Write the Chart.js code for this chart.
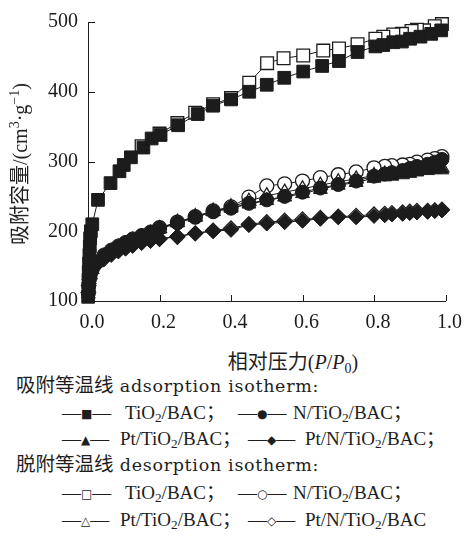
<!DOCTYPE html>
<html>
<head>
<meta charset="utf-8">
<script src="https://cdn.jsdelivr.net/npm/chart.js@4.4.1/dist/chart.umd.min.js"></script>
<style>
  body { margin: 0; background: #fff; }
  #wrap { position: relative; width: 468px; height: 548px; overflow: hidden;
          font-family: "Liberation Serif", "Noto Sans CJK SC", serif; color: #1e1e1e; }
  #c { position: absolute; left: 0; top: 0; }
  .t { position: absolute; white-space: nowrap; font-size: 19px; line-height: 1; transform: translateY(-50%); }
  .hd { font-size: 19.5px; }
  .ytitle { position: absolute; left: 20px; top: 164px; white-space: nowrap; font-size: 20px; line-height: 1;
            transform: translate(-50%, -50%) rotate(-90deg); }
  .xtitle { position: absolute; left: 293px; top: 362px; white-space: nowrap; font-size: 20px; line-height: 1;
            transform: translate(-50%, -50%); }
  .sp { font-family: "DejaVu Serif", serif; font-size: 17.5px; letter-spacing: 0.7px; }
  .sym { font-family: "DejaVu Sans"; font-size: 12px; position: relative; top: -1px; }
  sub { font-size: 70%; vertical-align: -0.3em; line-height: 0; }
  sup { font-size: 70%; vertical-align: 0.55em; line-height: 0; }
</style>
</head>
<body>
<div id="wrap">
  <canvas id="c" width="468" height="340"></canvas>

  <div class="ytitle">吸附容量/(cm<sup>3</sup>·g<sup>−1</sup>)</div>
  <div class="xtitle">相对压力(<i>P</i>/<i>P</i><sub>0</sub>)</div>

  <div class="t hd" style="left:16px;top:386px">吸附等温线<span class="sp"> adsorption isotherm:</span></div>
  <div class="t" style="left:62px;top:412px">—<span class="sym">■</span>—</div>
  <div class="t" style="left:125px;top:412px">TiO<sub>2</sub>/BAC；</div>
  <div class="t" style="left:238px;top:412px">—<span class="sym">●</span>—</div>
  <div class="t" style="left:293px;top:412px">N/TiO<sub>2</sub>/BAC；</div>
  <div class="t" style="left:62px;top:438px">—<span class="sym">▲</span>—</div>
  <div class="t" style="left:120px;top:438px">Pt/TiO<sub>2</sub>/BAC；</div>
  <div class="t" style="left:248px;top:438px">—<span class="sym">◆</span>—</div>
  <div class="t" style="left:305px;top:438px">Pt/N/TiO<sub>2</sub>/BAC；</div>

  <div class="t hd" style="left:16px;top:465px">脱附等温线<span class="sp"> desorption isotherm:</span></div>
  <div class="t" style="left:62px;top:492px">—<span class="sym">□</span>—</div>
  <div class="t" style="left:125px;top:492px">TiO<sub>2</sub>/BAC；</div>
  <div class="t" style="left:238px;top:492px">—<span class="sym">○</span>—</div>
  <div class="t" style="left:293px;top:492px">N/TiO<sub>2</sub>/BAC；</div>
  <div class="t" style="left:62px;top:519px">—<span class="sym">△</span>—</div>
  <div class="t" style="left:120px;top:519px">Pt/TiO<sub>2</sub>/BAC；</div>
  <div class="t" style="left:248px;top:519px">—<span class="sym">◇</span>—</div>
  <div class="t" style="left:305px;top:519px">Pt/N/TiO<sub>2</sub>/BAC</div>
</div>

<script>
// relative pressure P/P0 and adsorbed volume (cm3/g)

// TiO2/BAC
const tiAdsP = [0.0005, 0.001, 0.0015, 0.002, 0.003, 0.004, 0.005, 0.006, 0.008, 0.012, 0.028, 0.063, 0.088, 0.10, 0.12, 0.155, 0.178, 0.203, 0.252, 0.307, 0.35, 0.40, 0.451, 0.50, 0.549, 0.602, 0.655, 0.702, 0.754, 0.804, 0.826, 0.854, 0.878, 0.901, 0.93, 0.96, 0.988];
const tiAdsV = [106, 118, 130, 142, 154, 166, 178, 190, 200, 210, 245, 269, 286, 295, 306, 320, 333, 338, 352, 368, 380, 389, 400, 410, 420, 429, 437, 444, 457, 465, 467, 471, 472, 476, 479, 483, 488];
const tiDesP = [0.99, 0.97, 0.94, 0.92, 0.905, 0.878, 0.854, 0.826, 0.804, 0.754, 0.702, 0.658, 0.602, 0.547, 0.501, 0.451, 0.40, 0.35, 0.30, 0.25, 0.20, 0.15];
const tiDesV = [497, 494, 488, 489, 487, 483, 482, 479, 476, 468, 462, 459, 452, 448, 441, 413, 391, 382, 370, 355, 340, 322];

// shared adsorption / desorption pressure points for the other three samples
const adsP = [0.001, 0.002, 0.004, 0.007, 0.012, 0.025, 0.045, 0.065, 0.085, 0.105, 0.125, 0.15, 0.175, 0.20, 0.25, 0.30, 0.35, 0.40, 0.45, 0.50, 0.55, 0.60, 0.65, 0.70, 0.75, 0.80, 0.83, 0.85, 0.88, 0.90, 0.92, 0.95, 0.97, 0.99];
const desP = [0.99, 0.97, 0.95, 0.92, 0.90, 0.88, 0.85, 0.83, 0.80, 0.75, 0.70, 0.65, 0.60, 0.55, 0.50, 0.45, 0.40, 0.35, 0.30, 0.25, 0.20];

// N/TiO2/BAC
const nAdsV = [111, 121, 131, 139, 146, 156, 166, 173, 179, 184, 189, 194, 199, 204, 212, 220, 228, 233, 240, 245, 250, 256, 262, 267, 272, 279, 282, 284, 287, 290, 293, 296, 299, 303];
const nDesV = [307, 304, 302, 299, 296, 295, 294, 293, 291, 285, 281, 277, 272, 268, 265, 249, 235, 229, 221, 213, 205];

// Pt/TiO2/BAC
const ptAdsV = [110, 120, 130, 138, 145, 155, 165, 172, 178, 183, 188, 193, 198, 203, 212, 220, 228, 233, 239, 244, 249, 254, 260, 266, 270, 276, 278, 279, 281, 283, 285, 287, 289, 288];
const ptDesV = [291, 292, 290, 288, 287, 285, 283, 282, 280, 275, 271, 266, 261, 256, 251, 243, 235, 229, 221, 213, 204];

// Pt/N/TiO2/BAC
const pnAdsV = [112, 122, 131, 139, 145, 152, 160, 166, 171, 175, 179, 183, 186, 189, 193, 197, 200, 202, 209, 211, 213, 215, 218, 220, 220, 222, 223, 224, 225, 226, 227, 228, 229, 230];
const pnDesV = [231, 230, 229, 229, 228, 227, 226, 225, 224, 222, 221, 219, 217, 215, 213, 210, 204, 201, 197, 192, 189];

const xTicks = [0, 0.2, 0.4, 0.6, 0.8, 1.0];
const yTicks = [100, 200, 300, 400, 500];

var ink = '#1c1c1c';

function pts(xs, ys) {
    return xs.map(function (x, i) { return { x: x, y: ys[i] }; });
}

function series(label, xs, ys, style, radius, filled) {
    return {
        label: label,
        data: pts(xs, ys),
        showLine: true,
        tension: 0,
        borderColor: ink,
        borderWidth: 1,
        pointStyle: style,
        pointRadius: radius,
        pointBorderWidth: filled ? 1 : 1.3,
        pointBorderColor: ink,
        pointBackgroundColor: filled ? ink : '#fff',
        clip: false
    };
}

// inward tick marks, placed through the chart's own scales
var innerTicks = {
    id: 'innerTicks',
    afterDraw: function (chart) {
        var ctx = chart.ctx, a = chart.chartArea;
        var xs = chart.scales.x, ys = chart.scales.y;
        ctx.save();
        ctx.strokeStyle = ink;
        ctx.lineWidth = 1;
        ctx.beginPath();
        xTicks.forEach(function (v) {
            var px = Math.round(xs.getPixelForValue(v)) + 0.5;
            ctx.moveTo(px, a.bottom);
            ctx.lineTo(px, a.bottom - 6);
        });
        yTicks.forEach(function (v) {
            var py = Math.round(ys.getPixelForValue(v)) + 0.5;
            ctx.moveTo(a.left, py);
            ctx.lineTo(a.left + 7, py);
        });
        ctx.stroke();
        ctx.restore();
    }
};

var tickFont = { family: "'Liberation Serif', serif", size: 20 };

new Chart(document.getElementById('c'), {
    type: 'scatter',
    data: {
        datasets: [
            series('TiO2/BAC ads', tiAdsP, tiAdsV, 'rect', 9, true),
            series('Pt/TiO2/BAC ads', adsP, ptAdsV, 'triangle', 8, true),
            series('N/TiO2/BAC ads', adsP, nAdsV, 'circle', 7, true),
            series('Pt/N/TiO2/BAC ads', adsP, pnAdsV, 'rectRot', 7.5, true),
            series('TiO2/BAC des', tiDesP, tiDesV, 'rect', 9, false),
            series('Pt/TiO2/BAC des', desP, ptDesV, 'triangle', 8, false),
            series('N/TiO2/BAC des', desP, nDesV, 'circle', 7, false),
            series('Pt/N/TiO2/BAC des', desP, pnDesV, 'rectRot', 7.5, false)
        ]
    },
    options: {
        responsive: false,
        animation: false,
        layout: { padding: { top: 16, right: 17, left: 0, bottom: 0 } },
        plugins: {
            legend: { display: false },
            tooltip: { enabled: false }
        },
        scales: {
            x: {
                type: 'linear',
                min: 0,
                max: 1,
                afterFit: function (s) { s.height = 39; },
                afterBuildTicks: function (s) { s.ticks = xTicks.map(function (v) { return { value: v }; }); },
                ticks: {
                    callback: function (v) { return v.toFixed(1); },
                    font: tickFont,
                    color: ink,
                    padding: 10,
                    labelOffset: 4,
                    maxRotation: 0,
                    autoSkip: false
                },
                grid: { display: false, drawTicks: false },
                border: { color: ink, width: 1 }
            },
            y: {
                min: 100,
                max: 500,
                afterFit: function (s) { s.width = 88; },
                afterBuildTicks: function (s) { s.ticks = yTicks.map(function (v) { return { value: v }; }); },
                ticks: {
                    font: tickFont,
                    color: ink,
                    padding: 10
                },
                grid: { display: false, drawTicks: false },
                border: { color: ink, width: 1 }
            }
        }
    },
    plugins: [innerTicks]
});
</script>
</body>
</html>
